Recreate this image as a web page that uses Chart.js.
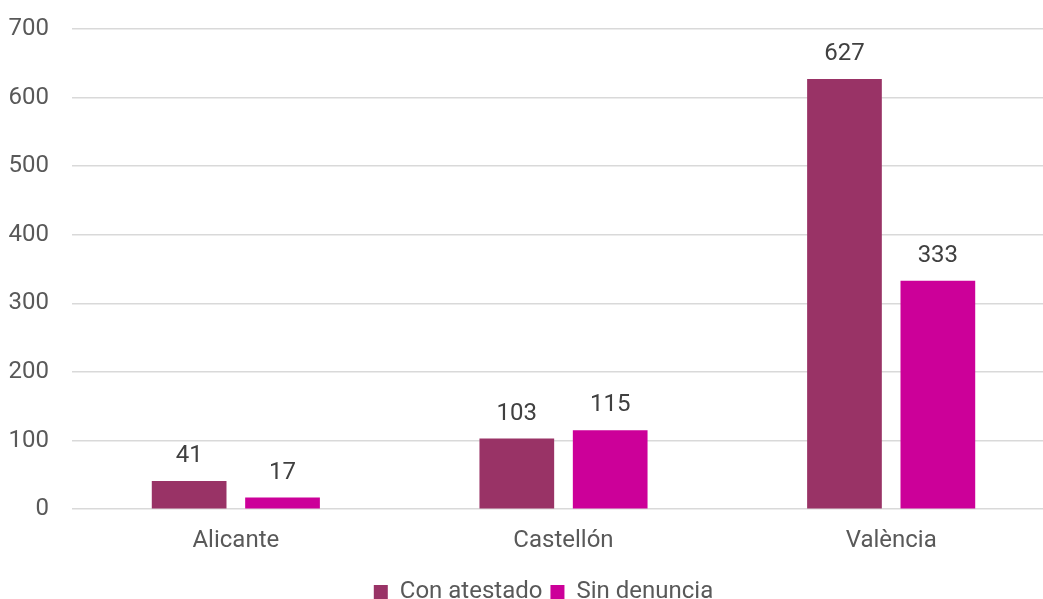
<!DOCTYPE html>
<html>
<head>
<meta charset="utf-8">
<script src="https://cdn.jsdelivr.net/npm/chart.js@4/dist/chart.umd.min.js"></script>
<style>
  html, body { margin: 0; padding: 0; background: #fff; overflow: hidden; }
  #wrap { width: 1056px; height: 619px; }
</style>
</head>
<body>
<div id="wrap"><canvas id="chart" width="1056" height="619"></canvas></div>
<script>
// Datos del gráfico
const provincias = ['Alicante', 'Castellón', 'València'];
const conAtestado = [41, 103, 627];
const sinDenuncia = [17, 115, 333];
const yTicks = [0, 100, 200, 300, 400, 500, 600, 700];

const FONT = 'Roboto';

// Etiquetas de valor encima de cada barra
const valueLabels = {
    id: 'valueLabels',
    afterDatasetsDraw(chart) {
        const ctx = chart.ctx;
        ctx.save();
        ctx.font = '24px ' + FONT;
        ctx.fillStyle = '#404040';
        ctx.textAlign = 'center';
        ctx.textBaseline = 'bottom';
        chart.data.datasets.forEach((ds, i) => {
            chart.getDatasetMeta(i).data.forEach((bar, j) => {
                ctx.fillText(ds.data[j], bar.x, bar.y - 13);
            });
        });
        ctx.restore();
    }
};

// Desplazar la leyenda para centrarla como en el original
const legendShift = {
    id: 'legendShift',
    afterLayout(chart) {
        chart.legend.left += 16;
        chart.legend.right += 16;
    }
};

new Chart(document.getElementById('chart'), {
    type: 'bar',
    data: {
        labels: provincias,
        datasets: [
            { label: 'Con atestado', data: conAtestado, backgroundColor: '#993366' },
            { label: 'Sin denuncia', data: sinDenuncia, backgroundColor: '#CC0099' }
        ]
    },
    options: {
        responsive: false,
        animation: false,
        devicePixelRatio: 1,
        layout: { padding: { top: 29, right: 1, left: 0, bottom: 5 } },
        datasets: {
            bar: { barPercentage: 0.8, categoryPercentage: 0.57 }
        },
        scales: {
            x: {
                grid: { display: false, drawTicks: false },
                border: { display: false },
                ticks: { color: '#595959', font: { family: FONT, size: 24 }, padding: 17 }
            },
            y: {
                min: 0,
                max: 700,
                afterBuildTicks(scale) {
                    scale.ticks = yTicks.map(v => ({ value: v }));
                },
                afterFit(scale) {
                    scale.width = 72;
                    scale.paddingTop = 0;
                    scale.paddingBottom = 0;
                },
                grid: { color: '#d9d9d9', lineWidth: 1.5, drawTicks: false },
                border: { display: false },
                ticks: { color: '#595959', font: { family: FONT, size: 24 }, padding: 23 }
            }
        },
        plugins: {
            legend: {
                position: 'bottom',
                labels: {
                    color: '#595959',
                    font: { family: FONT, size: 24 },
                    boxWidth: 14,
                    boxHeight: 14,
                    padding: 8
                }
            },
            tooltip: { enabled: false }
        }
    },
    plugins: [valueLabels, legendShift]
});
</script>
</body>
</html>
